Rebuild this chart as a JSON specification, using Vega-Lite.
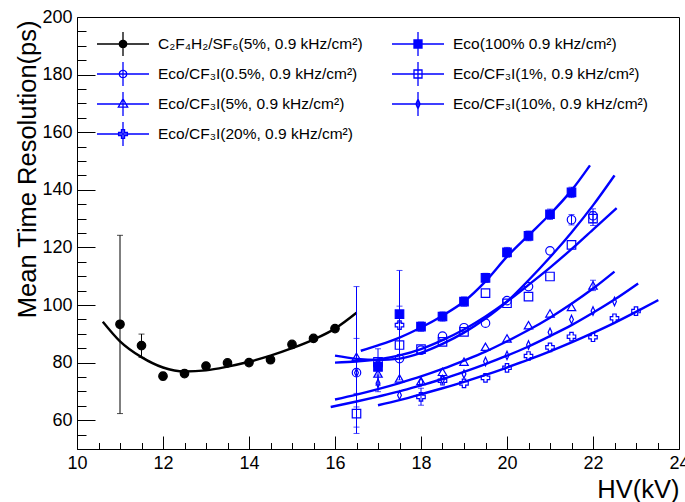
{
  "$schema": "https://vega.github.io/schema/vega-lite/v6.json",
  "width": 602,
  "height": 432,
  "autosize": {"type": "none"},
  "padding": {"left": 77, "top": 17, "right": 6, "bottom": 53},
  "background": "white",
  "config": {
    "view": {"stroke": "#000000", "strokeWidth": 1},
    "font": "Liberation Sans",
    "axis": {
      "domain": false, "grid": false,
      "labelFont": "Liberation Sans", "labelFontSize": 18, "labelColor": "#000000",
      "tickColor": "#000000", "tickWidth": 1,
      "titleFont": "Liberation Sans", "titleFontSize": 25.5, "titleFontWeight": "normal", "titleColor": "#000000",
      "labelOverlap": false, "labelFlush": false, "labelBound": false
    }
  },
  "resolve": {
    "scale": {"x": "independent", "y": "independent", "shape": "independent", "fill": "independent", "stroke": "independent"},
    "axis": {"x": "independent", "y": "independent"}
  },
  "datasets": {
    "leg": [
      {"s": "C2F4H2", "label": "C₂F₄H₂/SF₆(5%, 0.9 kHz/cm²)", "col": 0, "row": 0},
      {"s": "Eco100", "label": "Eco(100% 0.9 kHz/cm²)", "col": 1, "row": 0},
      {"s": "CF3I_0.5", "label": "Eco/CF₃I(0.5%, 0.9 kHz/cm²)", "col": 0, "row": 1},
      {"s": "CF3I_1", "label": "Eco/CF₃I(1%, 0.9 kHz/cm²)", "col": 1, "row": 1},
      {"s": "CF3I_5", "label": "Eco/CF₃I(5%, 0.9 kHz/cm²)", "col": 0, "row": 2},
      {"s": "CF3I_10", "label": "Eco/CF₃I(10%, 0.9 kHz/cm²)", "col": 1, "row": 2},
      {"s": "CF3I_20", "label": "Eco/CF₃I(20%, 0.9 kHz/cm²)", "col": 0, "row": 3}
    ],
    "pts": [
      {"s": "C2F4H2", "x": 11, "y": 93.3, "lo": 62.3, "hi": 124.2},
      {"s": "C2F4H2", "x": 11.5, "y": 85.9, "lo": 81.8, "hi": 89.9},
      {"s": "C2F4H2", "x": 12, "y": 75.3, "lo": 74.0, "hi": 76.6},
      {"s": "C2F4H2", "x": 12.5, "y": 76.2},
      {"s": "C2F4H2", "x": 13, "y": 78.8},
      {"s": "C2F4H2", "x": 13.5, "y": 79.9},
      {"s": "C2F4H2", "x": 14, "y": 80.0},
      {"s": "C2F4H2", "x": 14.5, "y": 81.0},
      {"s": "C2F4H2", "x": 15, "y": 86.3},
      {"s": "C2F4H2", "x": 15.5, "y": 88.4},
      {"s": "C2F4H2", "x": 16, "y": 91.8},
      {"s": "Eco100", "x": 17, "y": 78.5, "lo": 72.2, "hi": 84.8},
      {"s": "Eco100", "x": 17.5, "y": 96.8, "lo": 94.0, "hi": 99.6},
      {"s": "Eco100", "x": 18, "y": 92.5, "lo": 90.9, "hi": 94.1},
      {"s": "Eco100", "x": 18.5, "y": 96.0, "lo": 94.4, "hi": 97.6},
      {"s": "Eco100", "x": 19, "y": 101.2, "lo": 99.6, "hi": 102.8},
      {"s": "Eco100", "x": 19.5, "y": 109.4, "lo": 107.8, "hi": 111.0},
      {"s": "Eco100", "x": 20, "y": 118.3, "lo": 116.6, "hi": 120.0},
      {"s": "Eco100", "x": 20.5, "y": 124.0, "lo": 122.3, "hi": 125.7},
      {"s": "Eco100", "x": 21, "y": 131.5, "lo": 129.7, "hi": 133.3},
      {"s": "Eco100", "x": 21.5, "y": 139.1, "lo": 137.3, "hi": 140.9},
      {"s": "CF3I_0.5", "x": 16.5, "y": 76.5, "lo": 64.6, "hi": 88.4},
      {"s": "CF3I_0.5", "x": 17, "y": 79.0},
      {"s": "CF3I_0.5", "x": 17.5, "y": 81.4},
      {"s": "CF3I_0.5", "x": 18, "y": 84.3},
      {"s": "CF3I_0.5", "x": 18.5, "y": 89.2},
      {"s": "CF3I_0.5", "x": 19, "y": 92.1},
      {"s": "CF3I_0.5", "x": 19.5, "y": 93.7},
      {"s": "CF3I_0.5", "x": 20, "y": 101.5},
      {"s": "CF3I_0.5", "x": 20.5, "y": 106.4},
      {"s": "CF3I_0.5", "x": 21, "y": 118.8},
      {"s": "CF3I_0.5", "x": 21.5, "y": 129.6, "lo": 127.8, "hi": 131.4},
      {"s": "CF3I_0.5", "x": 22, "y": 131.0, "lo": 128.6, "hi": 133.4},
      {"s": "CF3I_1", "x": 16.5, "y": 62.3, "lo": 55.4, "hi": 69.3},
      {"s": "CF3I_1", "x": 17, "y": 80.3},
      {"s": "CF3I_1", "x": 17.5, "y": 86.1},
      {"s": "CF3I_1", "x": 18, "y": 84.7},
      {"s": "CF3I_1", "x": 18.5, "y": 87.2},
      {"s": "CF3I_1", "x": 19, "y": 90.7},
      {"s": "CF3I_1", "x": 19.5, "y": 104.1},
      {"s": "CF3I_1", "x": 20, "y": 100.6},
      {"s": "CF3I_1", "x": 20.5, "y": 102.9},
      {"s": "CF3I_1", "x": 21, "y": 109.9},
      {"s": "CF3I_1", "x": 21.5, "y": 120.9},
      {"s": "CF3I_1", "x": 22, "y": 130.0, "lo": 127.6, "hi": 132.4},
      {"s": "CF3I_5", "x": 16.5, "y": 82.0, "lo": 57.6, "hi": 106.4},
      {"s": "CF3I_5", "x": 17, "y": 76.2},
      {"s": "CF3I_5", "x": 17.5, "y": 74.5},
      {"s": "CF3I_5", "x": 18, "y": 73.6},
      {"s": "CF3I_5", "x": 18.5, "y": 76.8},
      {"s": "CF3I_5", "x": 19, "y": 80.3},
      {"s": "CF3I_5", "x": 19.5, "y": 85.5},
      {"s": "CF3I_5", "x": 20, "y": 88.4},
      {"s": "CF3I_5", "x": 20.5, "y": 93.0},
      {"s": "CF3I_5", "x": 21, "y": 97.1},
      {"s": "CF3I_5", "x": 21.5, "y": 99.3},
      {"s": "CF3I_5", "x": 22, "y": 106.8, "lo": 105.0, "hi": 108.6},
      {"s": "CF3I_10", "x": 16.5, "y": 76.5},
      {"s": "CF3I_10", "x": 17, "y": 72.8, "lo": 69.9, "hi": 75.7},
      {"s": "CF3I_10", "x": 17.5, "y": 68.7},
      {"s": "CF3I_10", "x": 18, "y": 73.3},
      {"s": "CF3I_10", "x": 18.5, "y": 74.1},
      {"s": "CF3I_10", "x": 19, "y": 76.0},
      {"s": "CF3I_10", "x": 19.5, "y": 80.4},
      {"s": "CF3I_10", "x": 20, "y": 82.5},
      {"s": "CF3I_10", "x": 20.5, "y": 86.1},
      {"s": "CF3I_10", "x": 21, "y": 90.5},
      {"s": "CF3I_10", "x": 21.5, "y": 95.0},
      {"s": "CF3I_10", "x": 22, "y": 97.9},
      {"s": "CF3I_10", "x": 22.5, "y": 101.2},
      {"s": "CF3I_20", "x": 17.5, "y": 93.0, "lo": 74.0, "hi": 112.0},
      {"s": "CF3I_20", "x": 18, "y": 68.1, "lo": 65.2, "hi": 71.1},
      {"s": "CF3I_20", "x": 18.5, "y": 73.7},
      {"s": "CF3I_20", "x": 19, "y": 72.8},
      {"s": "CF3I_20", "x": 19.5, "y": 74.7},
      {"s": "CF3I_20", "x": 20, "y": 78.2},
      {"s": "CF3I_20", "x": 20.5, "y": 82.3},
      {"s": "CF3I_20", "x": 21, "y": 85.3},
      {"s": "CF3I_20", "x": 21.5, "y": 89.0},
      {"s": "CF3I_20", "x": 22, "y": 88.8},
      {"s": "CF3I_20", "x": 22.5, "y": 95.4},
      {"s": "CF3I_20", "x": 23, "y": 97.9}
    ],
    "fit": [
      {"s": "C2F4H2", "x": 10.6, "y": 94.2},
      {"s": "C2F4H2", "x": 11.0, "y": 87.4},
      {"s": "C2F4H2", "x": 11.5, "y": 81.9},
      {"s": "C2F4H2", "x": 12.0, "y": 78.3},
      {"s": "C2F4H2", "x": 12.5, "y": 76.9},
      {"s": "C2F4H2", "x": 13.0, "y": 77.3},
      {"s": "C2F4H2", "x": 13.5, "y": 78.6},
      {"s": "C2F4H2", "x": 14.0, "y": 80.3},
      {"s": "C2F4H2", "x": 14.5, "y": 82.4},
      {"s": "C2F4H2", "x": 15.0, "y": 85.0},
      {"s": "C2F4H2", "x": 15.5, "y": 88.0},
      {"s": "C2F4H2", "x": 16.0, "y": 91.8},
      {"s": "C2F4H2", "x": 16.5, "y": 97.3},
      {"s": "Eco100", "x": 16.6, "y": 84.1},
      {"s": "Eco100", "x": 17.0, "y": 86.0},
      {"s": "Eco100", "x": 17.5, "y": 88.7},
      {"s": "Eco100", "x": 18.0, "y": 92.2},
      {"s": "Eco100", "x": 18.5, "y": 96.3},
      {"s": "Eco100", "x": 19.0, "y": 101.2},
      {"s": "Eco100", "x": 19.5, "y": 108.2},
      {"s": "Eco100", "x": 20.0, "y": 116.8},
      {"s": "Eco100", "x": 20.5, "y": 124.2},
      {"s": "Eco100", "x": 21.0, "y": 131.5},
      {"s": "Eco100", "x": 21.5, "y": 139.8},
      {"s": "Eco100", "x": 21.93, "y": 148.5},
      {"s": "CF3I_0.5", "x": 16.0, "y": 82.4},
      {"s": "CF3I_0.5", "x": 16.5, "y": 81.3},
      {"s": "CF3I_0.5", "x": 17.0, "y": 80.9},
      {"s": "CF3I_0.5", "x": 17.5, "y": 81.4},
      {"s": "CF3I_0.5", "x": 18.0, "y": 83.4},
      {"s": "CF3I_0.5", "x": 18.5, "y": 86.5},
      {"s": "CF3I_0.5", "x": 19.0, "y": 90.4},
      {"s": "CF3I_0.5", "x": 19.5, "y": 95.3},
      {"s": "CF3I_0.5", "x": 20.0, "y": 101.2},
      {"s": "CF3I_0.5", "x": 20.5, "y": 108.6},
      {"s": "CF3I_0.5", "x": 21.0, "y": 116.6},
      {"s": "CF3I_0.5", "x": 21.5, "y": 125.2},
      {"s": "CF3I_0.5", "x": 22.0, "y": 134.6},
      {"s": "CF3I_0.5", "x": 22.5, "y": 145.0},
      {"s": "CF3I_1", "x": 16.0, "y": 80.0},
      {"s": "CF3I_1", "x": 16.5, "y": 80.4},
      {"s": "CF3I_1", "x": 17.0, "y": 81.1},
      {"s": "CF3I_1", "x": 17.5, "y": 82.5},
      {"s": "CF3I_1", "x": 18.0, "y": 84.7},
      {"s": "CF3I_1", "x": 18.5, "y": 87.8},
      {"s": "CF3I_1", "x": 19.0, "y": 91.5},
      {"s": "CF3I_1", "x": 19.5, "y": 96.0},
      {"s": "CF3I_1", "x": 20.0, "y": 101.2},
      {"s": "CF3I_1", "x": 20.5, "y": 107.0},
      {"s": "CF3I_1", "x": 21.0, "y": 113.0},
      {"s": "CF3I_1", "x": 21.5, "y": 119.4},
      {"s": "CF3I_1", "x": 22.0, "y": 126.2},
      {"s": "CF3I_1", "x": 22.55, "y": 133.6},
      {"s": "CF3I_5", "x": 16.0, "y": 67.2},
      {"s": "CF3I_5", "x": 16.5, "y": 68.9},
      {"s": "CF3I_5", "x": 17.0, "y": 70.8},
      {"s": "CF3I_5", "x": 17.5, "y": 72.9},
      {"s": "CF3I_5", "x": 18.0, "y": 75.2},
      {"s": "CF3I_5", "x": 18.5, "y": 77.8},
      {"s": "CF3I_5", "x": 19.0, "y": 80.7},
      {"s": "CF3I_5", "x": 19.5, "y": 83.8},
      {"s": "CF3I_5", "x": 20.0, "y": 87.4},
      {"s": "CF3I_5", "x": 20.5, "y": 91.3},
      {"s": "CF3I_5", "x": 21.0, "y": 95.6},
      {"s": "CF3I_5", "x": 21.5, "y": 100.4},
      {"s": "CF3I_5", "x": 22.0, "y": 105.7},
      {"s": "CF3I_5", "x": 22.5, "y": 111.6},
      {"s": "CF3I_10", "x": 15.9, "y": 64.6},
      {"s": "CF3I_10", "x": 16.5, "y": 66.5},
      {"s": "CF3I_10", "x": 17.0, "y": 68.2},
      {"s": "CF3I_10", "x": 17.5, "y": 70.0},
      {"s": "CF3I_10", "x": 18.0, "y": 72.1},
      {"s": "CF3I_10", "x": 18.5, "y": 74.3},
      {"s": "CF3I_10", "x": 19.0, "y": 76.8},
      {"s": "CF3I_10", "x": 19.5, "y": 79.5},
      {"s": "CF3I_10", "x": 20.0, "y": 82.4},
      {"s": "CF3I_10", "x": 20.5, "y": 85.6},
      {"s": "CF3I_10", "x": 21.0, "y": 89.2},
      {"s": "CF3I_10", "x": 21.5, "y": 93.0},
      {"s": "CF3I_10", "x": 22.0, "y": 97.3},
      {"s": "CF3I_10", "x": 22.5, "y": 101.9},
      {"s": "CF3I_10", "x": 23.05, "y": 107.5},
      {"s": "CF3I_20", "x": 17.0, "y": 65.2},
      {"s": "CF3I_20", "x": 17.5, "y": 67.0},
      {"s": "CF3I_20", "x": 18.0, "y": 69.0},
      {"s": "CF3I_20", "x": 18.5, "y": 71.1},
      {"s": "CF3I_20", "x": 19.0, "y": 73.3},
      {"s": "CF3I_20", "x": 19.5, "y": 75.7},
      {"s": "CF3I_20", "x": 20.0, "y": 78.3},
      {"s": "CF3I_20", "x": 20.5, "y": 81.0},
      {"s": "CF3I_20", "x": 21.0, "y": 83.9},
      {"s": "CF3I_20", "x": 21.5, "y": 87.0},
      {"s": "CF3I_20", "x": 22.0, "y": 90.3},
      {"s": "CF3I_20", "x": 22.5, "y": 93.8},
      {"s": "CF3I_20", "x": 23.0, "y": 97.6},
      {"s": "CF3I_20", "x": 23.52, "y": 101.7}
    ]
  },
  "layer": [
    {
      "resolve": {"axis": {"x": "independent", "y": "independent"}},
      "layer": [
        {
          "data": {"name": "fit"},
          "mark": {"type": "line", "strokeWidth": 2.4, "interpolate": "monotone"},
          "encoding": {
            "x": {"field": "x", "type": "quantitative", "scale": {"domain": [10, 24], "nice": false, "zero": false},
              "axis": {"orient": "bottom", "title": null, "labels": false,
                "values": [10.5, 11, 11.5, 12.5, 13, 13.5, 14.5, 15, 15.5, 16.5, 17, 17.5, 18.5, 19, 19.5, 20.5, 21, 21.5, 22.5, 23, 23.5],
                "tickSize": -6.5}},
            "y": {"field": "y", "type": "quantitative", "scale": {"domain": [50, 200], "nice": false, "zero": false},
              "axis": {"orient": "left", "title": null, "labels": false,
                "values": [50, 55, 65, 70, 75, 85, 90, 95, 105, 110, 115, 125, 130, 135, 145, 150, 155, 165, 170, 175, 185, 190, 195],
                "tickSize": -9}},
            "detail": {"field": "s", "type": "nominal"},
            "color": {"field": "s", "type": "nominal", "legend": null,
              "scale": {"domain": ["C2F4H2", "Eco100", "CF3I_0.5", "CF3I_1", "CF3I_5", "CF3I_10", "CF3I_20"],
                        "range": ["#000000", "#0000ff", "#0000ff", "#0000ff", "#0000ff", "#0000ff", "#0000ff"]}}
          }
        },
        {
          "data": {"name": "pts"},
          "mark": {"type": "rule", "strokeWidth": 1},
          "encoding": {
            "x": {"field": "x", "type": "quantitative", "axis": null},
            "y": {"field": "lo", "type": "quantitative", "axis": null},
            "y2": {"field": "hi"},
            "color": {"field": "s", "type": "nominal", "legend": null}
          }
        },
        {
          "data": {"name": "pts"},
          "mark": {"type": "tick", "orient": "horizontal", "size": 6, "thickness": 1},
          "encoding": {
            "x": {"field": "x", "type": "quantitative", "axis": null},
            "y": {"field": "lo", "type": "quantitative", "axis": null},
            "color": {"field": "s", "type": "nominal", "legend": null}
          }
        },
        {
          "data": {"name": "pts"},
          "mark": {"type": "tick", "orient": "horizontal", "size": 6, "thickness": 1},
          "encoding": {
            "x": {"field": "x", "type": "quantitative", "axis": null},
            "y": {"field": "hi", "type": "quantitative", "axis": null},
            "color": {"field": "s", "type": "nominal", "legend": null}
          }
        },
        {
          "data": {"name": "pts"},
          "mark": {"type": "point", "size": 72, "strokeWidth": 1.2, "opacity": 1},
          "encoding": {
            "x": {"field": "x", "type": "quantitative",
              "axis": {
                "orient": "bottom",
                "title": "HV(kV)",
                "values": [10, 12, 14, 16, 18, 20, 22, 24],
                "tickSize": -13,
                "labelPadding": 18,
                "titleX": 602, "titleY": 48, "titleAlign": "right", "titleBaseline": "alphabetic", "titleAnchor": "end"
              }},
            "y": {"field": "y", "type": "quantitative",
              "axis": {
                "orient": "left",
                "title": "Mean Time Resolution(ps)",
                "values": [60, 80, 100, 120, 140, 160, 180, 200],
                "tickSize": -18,
                "labelPadding": 23,
                "titleX": -42, "titleY": 3, "titleAlign": "right", "titleAngle": -90, "titleBaseline": "alphabetic", "titleAnchor": "end"
              }},
            "shape": {"field": "s", "type": "nominal", "legend": null,
              "scale": {"domain": ["C2F4H2", "Eco100", "CF3I_0.5", "CF3I_1", "CF3I_5", "CF3I_10", "CF3I_20"],
                        "range": ["circle", "square", "circle", "square", "triangle-up", "M0,-1L0.45,0L0,1L-0.45,0Z", "cross"]}},
            "fill": {"field": "s", "type": "nominal", "legend": null,
              "scale": {"domain": ["C2F4H2", "Eco100", "CF3I_0.5", "CF3I_1", "CF3I_5", "CF3I_10", "CF3I_20"],
                        "range": ["#000000", "#0000ff", "transparent", "transparent", "transparent", "transparent", "transparent"]}},
            "stroke": {"field": "s", "type": "nominal", "legend": null,
              "scale": {"domain": ["C2F4H2", "Eco100", "CF3I_0.5", "CF3I_1", "CF3I_5", "CF3I_10", "CF3I_20"],
                        "range": ["#000000", "#0000ff", "#0000ff", "#0000ff", "#0000ff", "#0000ff", "#0000ff"]}}
          }
        }
      ]
    },
    {
      "data": {"name": "leg"},
      "layer": [
        {
          "mark": {"type": "point", "size": 2704, "strokeWidth": 1.3, "opacity": 1},
          "encoding": {
            "x": {"field": "col", "type": "ordinal", "scale": {"type": "point", "range": [46, 341], "padding": 0}, "axis": null},
            "y": {"field": "row", "type": "ordinal", "scale": {"type": "point", "range": [27, 117], "padding": 0}, "axis": null},
            "shape": {"field": "s", "type": "nominal", "legend": null,
              "scale": {"domain": ["C2F4H2", "Eco100", "CF3I_0.5", "CF3I_1", "CF3I_5", "CF3I_10", "CF3I_20"],
                "range": [
                  "M-1,0L1,0M0,-0.46L0,0.46M0.146,0L0.126,0.073L0.073,0.126L0,0.146L-0.073,0.126L-0.126,0.073L-0.146,0L-0.126,-0.073L-0.073,-0.126L0,-0.146L0.073,-0.126L0.126,-0.073Z",
                  "M-1,0L1,0M0,-0.46L0,0.46M-0.154,-0.154L0.154,-0.154L0.154,0.154L-0.154,0.154Z",
                  "M-1,0L1,0M0,-0.46L0,0.46M0.146,0L0.126,0.073L0.073,0.126L0,0.146L-0.073,0.126L-0.126,0.073L-0.146,0L-0.126,-0.073L-0.073,-0.126L0,-0.146L0.073,-0.126L0.126,-0.073Z",
                  "M-1,0L1,0M0,-0.46L0,0.46M-0.154,-0.154L0.154,-0.154L0.154,0.154L-0.154,0.154Z",
                  "M-1,0L1,0M0,-0.46L0,0.46M0,-0.2L0.18,0.12L-0.18,0.12Z",
                  "M-1,0L1,0M0,-0.46L0,0.46M0,-0.19L0.08,0L0,0.19L-0.08,0Z",
                  "M-1,0L1,0M0,-0.46L0,0.46M-0.06,-0.17L0.06,-0.17L0.06,-0.06L0.17,-0.06L0.17,0.06L0.06,0.06L0.06,0.17L-0.06,0.17L-0.06,0.06L-0.17,0.06L-0.17,-0.06L-0.06,-0.06Z"
                ]}},
            "fill": {"field": "s", "type": "nominal", "legend": null,
              "scale": {"domain": ["C2F4H2", "Eco100", "CF3I_0.5", "CF3I_1", "CF3I_5", "CF3I_10", "CF3I_20"],
                        "range": ["#000000", "#0000ff", "transparent", "transparent", "transparent", "transparent", "transparent"]}},
            "stroke": {"field": "s", "type": "nominal", "legend": null,
              "scale": {"domain": ["C2F4H2", "Eco100", "CF3I_0.5", "CF3I_1", "CF3I_5", "CF3I_10", "CF3I_20"],
                        "range": ["#000000", "#0000ff", "#0000ff", "#0000ff", "#0000ff", "#0000ff", "#0000ff"]}}
          }
        },
        {
          "mark": {"type": "text", "align": "left", "baseline": "middle", "dx": 35, "fontSize": 15.5, "font": "Liberation Sans", "color": "#000000"},
          "encoding": {
            "x": {"field": "col", "type": "ordinal", "axis": null},
            "y": {"field": "row", "type": "ordinal", "axis": null},
            "text": {"field": "label"}
          }
        }
      ]
    }
  ]
}
